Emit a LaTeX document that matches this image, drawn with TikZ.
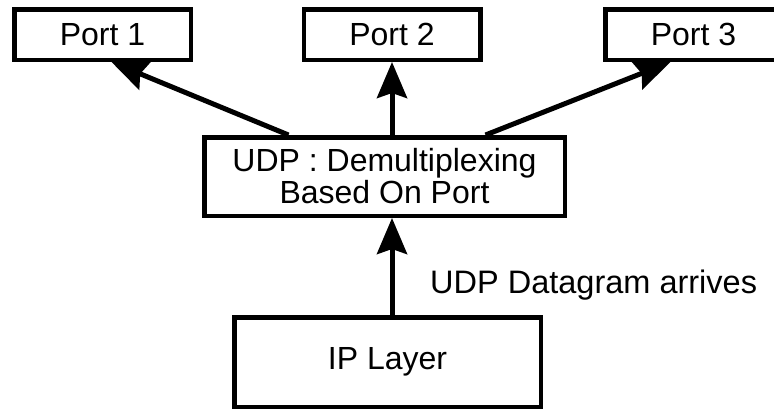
\documentclass[tikz,border=0pt]{standalone}
\usepackage{fontspec}
\setmainfont{Liberation Sans}
\usetikzlibrary{arrows.meta}
\begin{document}
\begin{tikzpicture}[x=1pt,y=-1pt,
  box/.style={draw, line width=4.5pt, fill=white, inner sep=0pt,
    font=\fontsize{32}{32}\selectfont, align=center},
  portbox/.style={box, minimum width=176.5pt, minimum height=50.5pt},
  flow/.style={line width=5pt, -{Stealth[length=36pt,width=30pt,inset=5pt]}},
  lbl/.style={inner sep=0pt, font=\fontsize{32.5}{32}\selectfont}]
\useasboundingbox (0,0) rectangle (774,410);

% boxes
\node[portbox] (p1) at (102.5,34.5) {Port 1};
\node[portbox] (p2) at (392,34.5) {Port 2};
\node[portbox] (p3) at (693.5,34.5) {Port 3};
\node[box, minimum width=360.5pt, minimum height=78.5pt] (udp) at (384.5,176.5)
  {UDP : Demultiplexing\\Based On Port};
\node[box, minimum width=306.5pt, minimum height=89.5pt] (ip) at (387.5,362) {IP Layer};

% demultiplexing to the ports
\draw[flow] ([xshift=-96pt]udp.north) -- ([xshift=9pt]p1.south);
\draw[flow] (p2.south |- udp.north) -- (p2.south);
\draw[flow] ([xshift=101pt]udp.north) -- ([xshift=-23pt]p3.south);

% datagram coming up from IP
\coordinate (ipout) at ([xshift=4.5pt]ip.north);
\draw[flow] (ipout) -- (ipout |- udp.south);
\node[lbl, anchor=base west] (arr) at (430,293) {UDP Datagram arrives};
\end{tikzpicture}
\end{document}
